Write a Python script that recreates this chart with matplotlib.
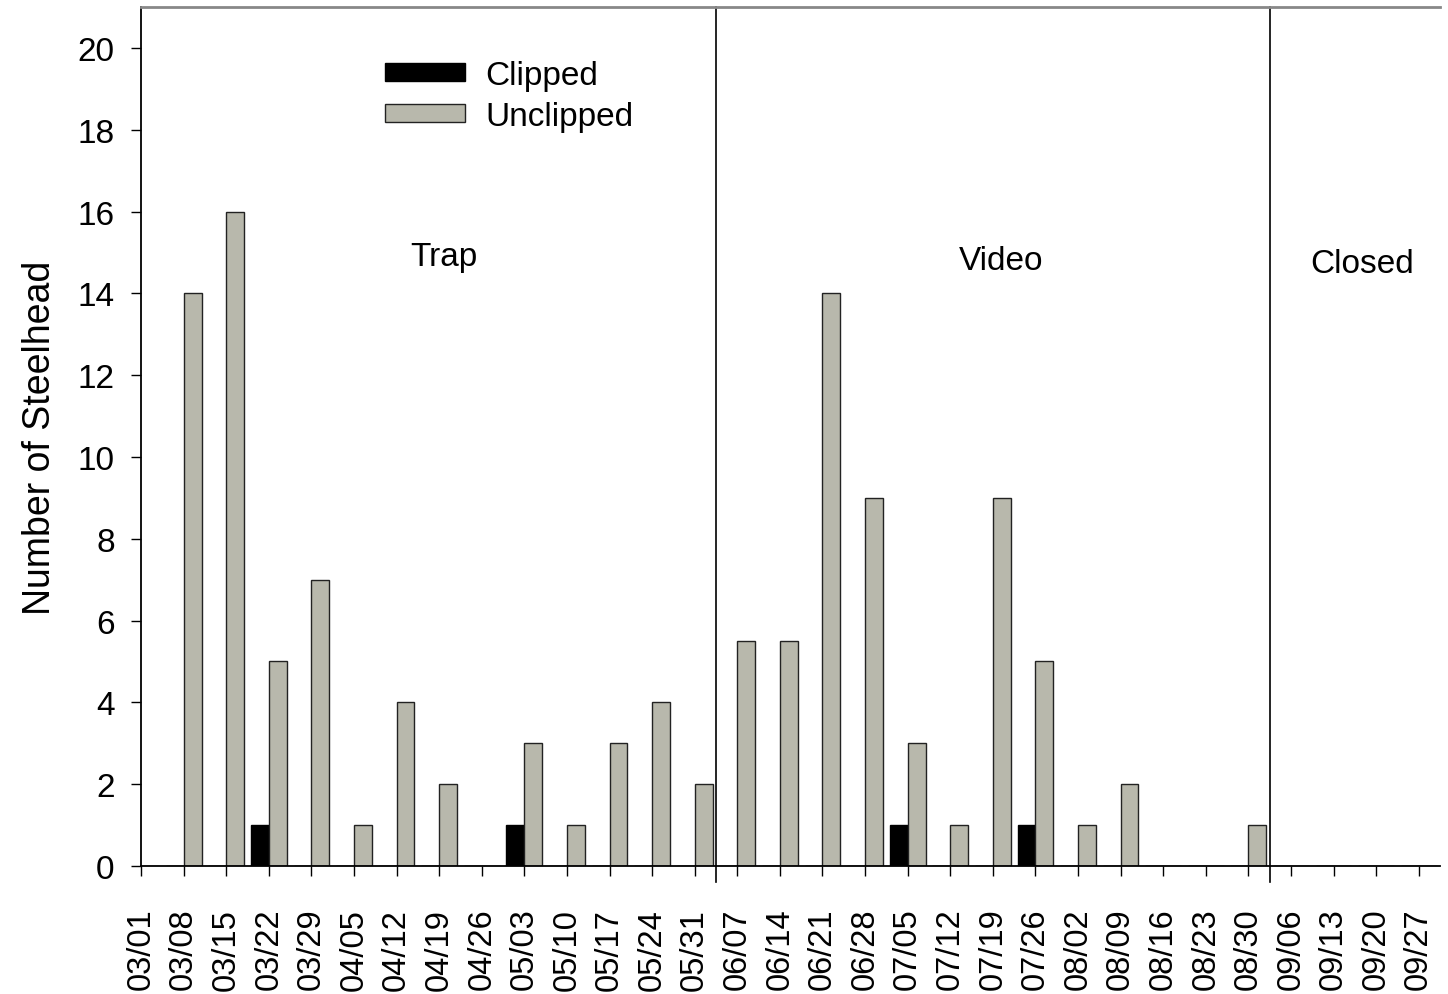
import numpy as np
import matplotlib
matplotlib.use("Agg")
from matplotlib import pyplot as plt

plt.rcParams['font.family'] = ['Liberation Sans', 'DejaVu Sans']

weeks = ["03/01", "03/08", "03/15", "03/22", "03/29", "04/05", "04/12", "04/19",
         "04/26", "05/03", "05/10", "05/17", "05/24", "05/31", "06/07", "06/14",
         "06/21", "06/28", "07/05", "07/12", "07/19", "07/26", "08/02", "08/09",
         "08/16", "08/23", "08/30", "09/06", "09/13", "09/20", "09/27"]
clipped = [0, 0, 0, 1, 0, 0, 0, 0, 0, 1, 0, 0, 0, 0, 0, 0,
           0, 0, 1, 0, 0, 1, 0, 0, 0, 0, 0, 0, 0, 0, 0]
unclipped = [0, 14, 16, 5, 7, 1, 4, 2, 0, 3, 1, 3, 4, 2, 5.5, 5.5,
             14, 9, 3, 1, 9, 5, 1, 2, 0, 0, 1, 0, 0, 0, 0]
periods = ["Trap", "Video", "Closed"]
period_breaks = [13.5, 26.5]

fig = plt.figure(figsize=(14.48, 9.95), dpi=100)
ax = fig.add_axes([0.0974, 0.1286, 0.8971, 0.8634])

x = np.arange(len(weeks))
w = 0.42
ax.bar(x, clipped, width=-w, align='edge', color='black', edgecolor='black',
       linewidth=1, label='Clipped')
ax.bar(x, unclipped, width=w, align='edge', color='#b8b8ac', edgecolor='#222222',
       linewidth=1, label='Unclipped')

for b in period_breaks:
    ax.axvline(b, color='black', linewidth=1.2, ymin=-0.018, clip_on=False)

# period labels
ax.text(7.1, 14.9, periods[0], ha='center', va='center', fontsize=24)
ax.text(20.2, 14.8, periods[1], ha='center', va='center', fontsize=24)
ax.text(28.66, 14.72, periods[2], ha='center', va='center', fontsize=24)

ax.set_xlim(0, 30.5)
ax.set_ylim(0, 21)
ax.set_xticks(x)
ax.set_xticklabels(weeks, rotation=90, fontsize=23.5)
ax.set_yticks(np.arange(0, 21, 2))
ax.tick_params(axis='y', labelsize=24, length=7, width=1, pad=12)
ax.tick_params(axis='x', length=7, width=1, pad=23)
ax.set_ylabel("Number of Steelhead", fontsize=27, labelpad=14)

ax.spines['right'].set_visible(False)
ax.spines['top'].set_color('#888888')
ax.spines['top'].set_linewidth(2)
ax.spines['left'].set_linewidth(1.3)
ax.spines['bottom'].set_linewidth(1.3)

ax.legend(loc='upper left', bbox_to_anchor=(0.188, 0.938), frameon=False,
          fontsize=24, handlelength=2.4, handleheight=0.45, handletextpad=0.6,
          labelspacing=0.28, borderpad=0, borderaxespad=0)

plt.savefig("out.png")
